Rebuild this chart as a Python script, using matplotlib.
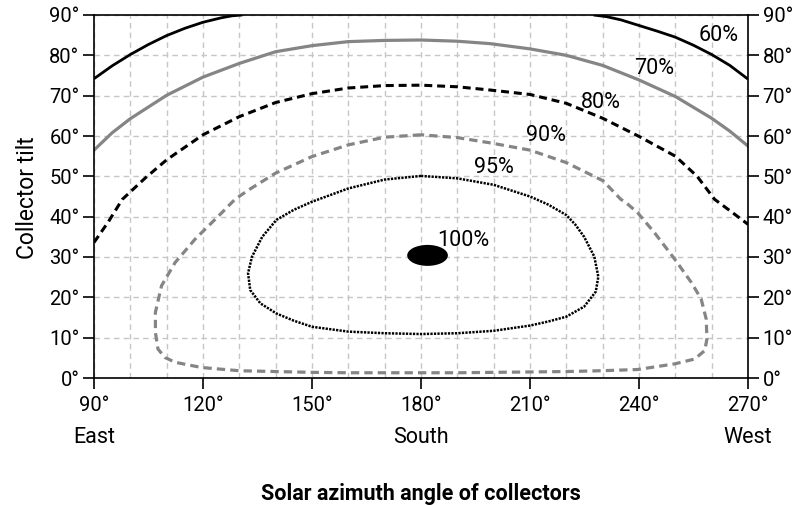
import matplotlib
matplotlib.use("Agg")
import matplotlib.pyplot as plt
from matplotlib.patches import Ellipse
from matplotlib.ticker import MultipleLocator, FixedLocator

# contour lines: azimuth (deg) and collector tilt (deg)
az60East = [90, 95, 100, 105, 110, 115, 120, 125, 128, 130.8]
tilt60East = [74.2, 77.4, 80.2, 82.7, 84.9, 86.7, 88.2, 89.3, 89.8, 90]
az60West = [227.5, 231, 235, 240, 245, 250, 255, 260, 265, 270]
tilt60West = [90, 89.6, 88.8, 87.4, 86.0, 84.5, 82.5, 80.2, 77.5, 74.1]

az70 = [90, 95, 100, 110, 120, 130, 140, 150, 160, 170, 180, 190, 199, 210, 220, 230, 240, 250, 260, 265, 270]
tilt70 = [56.5, 60.8, 64.3, 70.1, 74.6, 78.0, 80.9, 82.4, 83.4, 83.7, 83.8, 83.5, 82.9, 81.6, 80.0, 77.5, 73.9, 69.8, 64.4, 61.2, 57.5]

az80 = [90, 94, 97.8, 104, 110, 120, 130, 140, 150, 160, 170, 180, 190, 199, 210, 220, 230, 240, 250, 256, 260.8, 265, 270]
tilt80 = [33.6, 38.8, 44.3, 49.5, 54.1, 60.3, 64.8, 68.3, 70.5, 71.9, 72.5, 72.6, 72.2, 71.4, 70.3, 68.1, 64.4, 59.9, 55.0, 50.0, 44.3, 41.5, 38.1]

az90 = [180, 170, 160, 150, 140, 132.5, 128.8, 125.2, 117.8, 112.3, 108.6, 106.9, 106.9, 107.6, 109.5, 112.3,
        119.6, 130, 140, 150, 160, 170, 180, 190, 200, 210, 220, 229.5, 239.6, 249.8, 255.3, 258.1, 258.7,
        258.5, 257.1, 254.4, 249.8, 244.2, 239.6, 236.4, 235, 230.1, 220, 210, 199, 190, 180]
tilt90 = [60.3, 59.7, 57.8, 54.9, 50.8, 46.6, 44.3, 41.0, 34.4, 28.6, 22.9, 16.3, 11.3, 7.2, 5.1, 3.9,
          2.6, 1.8, 1.6, 1.4, 1.3, 1.3, 1.3, 1.3, 1.4, 1.5, 1.6, 1.8, 2.1, 3.5, 4.7, 6.8, 9.7,
          14.6, 19.6, 23.7, 29.5, 36.1, 41.0, 43.5, 44.3, 48.9, 53.4, 56.5, 58.3, 59.6, 60.3]

az95 = [180, 170, 160, 150, 145, 140.2, 136.3, 133.5, 132.4, 133.0, 135.8, 140.2, 145, 150, 160, 170, 180, 190,
        200, 210, 215, 220, 224.9, 228.1, 228.8, 227.7, 224.9, 222.5, 220, 215, 210, 200, 190, 180]
tilt95 = [50.1, 49.2, 47.0, 43.7, 41.7, 39.2, 35.0, 30.1, 26.0, 21.8, 18.5, 16.0, 14.2, 12.7, 11.5, 11.1, 10.9, 11.1,
          11.7, 13.0, 14.0, 15.2, 17.7, 21.4, 25.1, 30.1, 35.0, 38.0, 40.4, 43.0, 45.0, 47.9, 49.5, 50.1]

# optimum spot (100%)
optAz, optTilt = 181.8, 30.4
optWidth, optHeight = 11.2, 5.2

labelText = ["60%", "70%", "80%", "90%", "95%", "100%"]
labelAz = [261.9, 244.3, 229.6, 214.4, 200.0, 191.6]
labelTilt = [84.8, 76.8, 68.4, 60.1, 52.1, 34.0]

xTicks = [90, 120, 150, 180, 210, 240, 270]
yTicks = [0, 10, 20, 30, 40, 50, 60, 70, 80, 90]
directions = ["East", "South", "West"]
directionAz = [90, 180, 270]


def main():
    plt.rcParams['font.family'] = ['Roboto', 'DejaVu Sans']
    tickSize = 14.5
    textSize = 15.5

    fig = plt.figure(figsize=(7.93, 5.05), dpi=100)
    ax = fig.add_axes([94/793, 127/505, 654/793, 363/505])

    gridStyle = dict(color='#c6c6c6', linestyle=(0, (4, 3)), linewidth=1.0)
    ax.set_axisbelow(True)
    ax.xaxis.set_major_locator(FixedLocator(xTicks))
    ax.xaxis.set_minor_locator(MultipleLocator(10))
    ax.yaxis.set_major_locator(FixedLocator(yTicks))
    ax.grid(True, axis='x', which='both', **gridStyle)
    ax.grid(True, axis='y', which='major', **gridStyle)

    black = '#000000'
    gray = '#858585'
    ax.plot(az60East, tilt60East, color=black, lw=2.0, solid_capstyle='butt')
    ax.plot(az60West, tilt60West, color=black, lw=2.0, solid_capstyle='butt')
    ax.plot(az70, tilt70, color=gray, lw=2.3)
    ax.plot(az80, tilt80, color=black, lw=2.2, linestyle=(0, (2.6, 1.6)))
    ax.plot(az90, tilt90, color=gray, lw=2.3, linestyle=(0, (2.6, 1.6)))
    ax.plot(az95, tilt95, color=black, lw=1.8, linestyle=(0, (0.9, 0.5)))
    ax.add_patch(Ellipse((optAz, optTilt), optWidth, optHeight, facecolor=black, edgecolor='none'))

    for txt, x, y in zip(labelText, labelAz, labelTilt):
        ax.text(x, y, txt, ha='center', va='center', fontsize=textSize)

    ax.set_xlim(90, 270)
    ax.set_ylim(0, 90)
    ax.set_xticklabels([f"{t}°" for t in xTicks])
    ax.set_yticklabels([f"{t}°" for t in yTicks])

    for s in ax.spines.values():
        s.set_linewidth(1.2)
    ax.tick_params(which='major', direction='out', length=8, width=1.2, labelsize=tickSize,
                   right=True, labelright=True)
    ax.tick_params(axis='x', pad=5)
    ax.tick_params(axis='y', pad=2.5)
    ax.tick_params(which='minor', length=0)

    for d, x in zip(directions, directionAz):
        ax.annotate(d, xy=(x, 0), xycoords=('data', 'axes fraction'), xytext=(0, -43),
                    textcoords='offset points', ha='center', va='center', fontsize=textSize)

    fig.text(28/793, 1 - 198/505, "Collector tilt", rotation=90, ha='center', va='center', fontsize=16.5)
    fig.text(421/793, 1 - 494/505, "Solar azimuth angle of collectors", ha='center', va='center',
             fontsize=15.5, fontweight='bold')

    fig.savefig("out.png", dpi=100)


if __name__ == "__main__":
    main()
